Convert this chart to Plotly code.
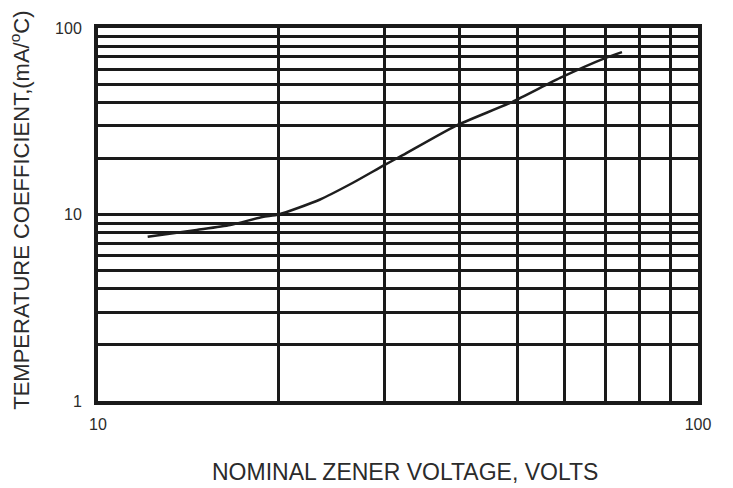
import plotly.graph_objects as go

# Curve data
voltage = [12.1, 14.6, 16.6, 18.8, 20, 23.4, 26.6, 30, 32.2, 39.4, 49, 58.9, 70, 74.7]
temp_coeff = [7.6, 8.26, 8.78, 9.7, 10.0, 12.0, 14.8, 18.4, 20.8, 29.8, 40.1, 54, 69, 74.3]

# Grid / tick positions
x_ticks = [10, 20, 30, 40, 50, 60, 70, 80, 90, 100]
x_labels = ["10", "", "", "", "", "", "", "", "", "100"]
y_ticks = [1, 2, 3, 4, 5, 6, 7, 8, 9, 10, 20, 30, 40, 50, 60, 70, 80, 90, 100]
y_labels = ["1"] + [""] * 8 + ["10"] + [""] * 8 + ["100"]

FONT = "Liberation Sans, Arial, sans-serif"
TXT = "#2b2b2b"

fig = go.Figure()
fig.add_trace(go.Scatter(
    x=voltage, y=temp_coeff, mode="lines",
    line=dict(color="#1e1e1e", width=2.5, shape="spline", smoothing=0.6),
    showlegend=False, hoverinfo="skip",
))

axis_common = dict(
    showgrid=True, gridcolor="#1a1a1a", gridwidth=3,
    showline=True, linecolor="#1a1a1a", linewidth=4, mirror=True,
    ticks="", zeroline=False,
    tickfont=dict(family=FONT, size=16, color=TXT),
)

fig.update_xaxes(type="log", range=[1, 2], tickmode="array",
                 tickvals=x_ticks, ticktext=x_labels, ticklabelstandoff=6,
                 **axis_common)
fig.update_yaxes(type="log", range=[0, 2], tickmode="array",
                 tickvals=y_ticks, ticktext=y_labels, ticklabelstandoff=9,
                 **axis_common)

fig.add_annotation(
    text="TEMPERATURE COEFFICIENT,(mA/<sup>o</sup>C)",
    xref="paper", yref="paper", x=-0.13, y=0.51,
    xanchor="center", yanchor="middle", textangle=-90, showarrow=False,
    font=dict(family=FONT, size=22, color=TXT),
)
fig.add_annotation(
    text="NOMINAL ZENER VOLTAGE, VOLTS",
    xref="paper", yref="paper", x=0.512, y=-0.19,
    xanchor="center", yanchor="middle", showarrow=False,
    font=dict(family=FONT, size=23, color=TXT),
)

fig.update_layout(
    width=733, height=488,
    margin=dict(l=98, r=35, t=28, b=87, autoexpand=False),
    paper_bgcolor="white", plot_bgcolor="white",
)

fig.write_html("out.html", config={"displayModeBar": False},
               post_script="document.body.style.margin='0';")
